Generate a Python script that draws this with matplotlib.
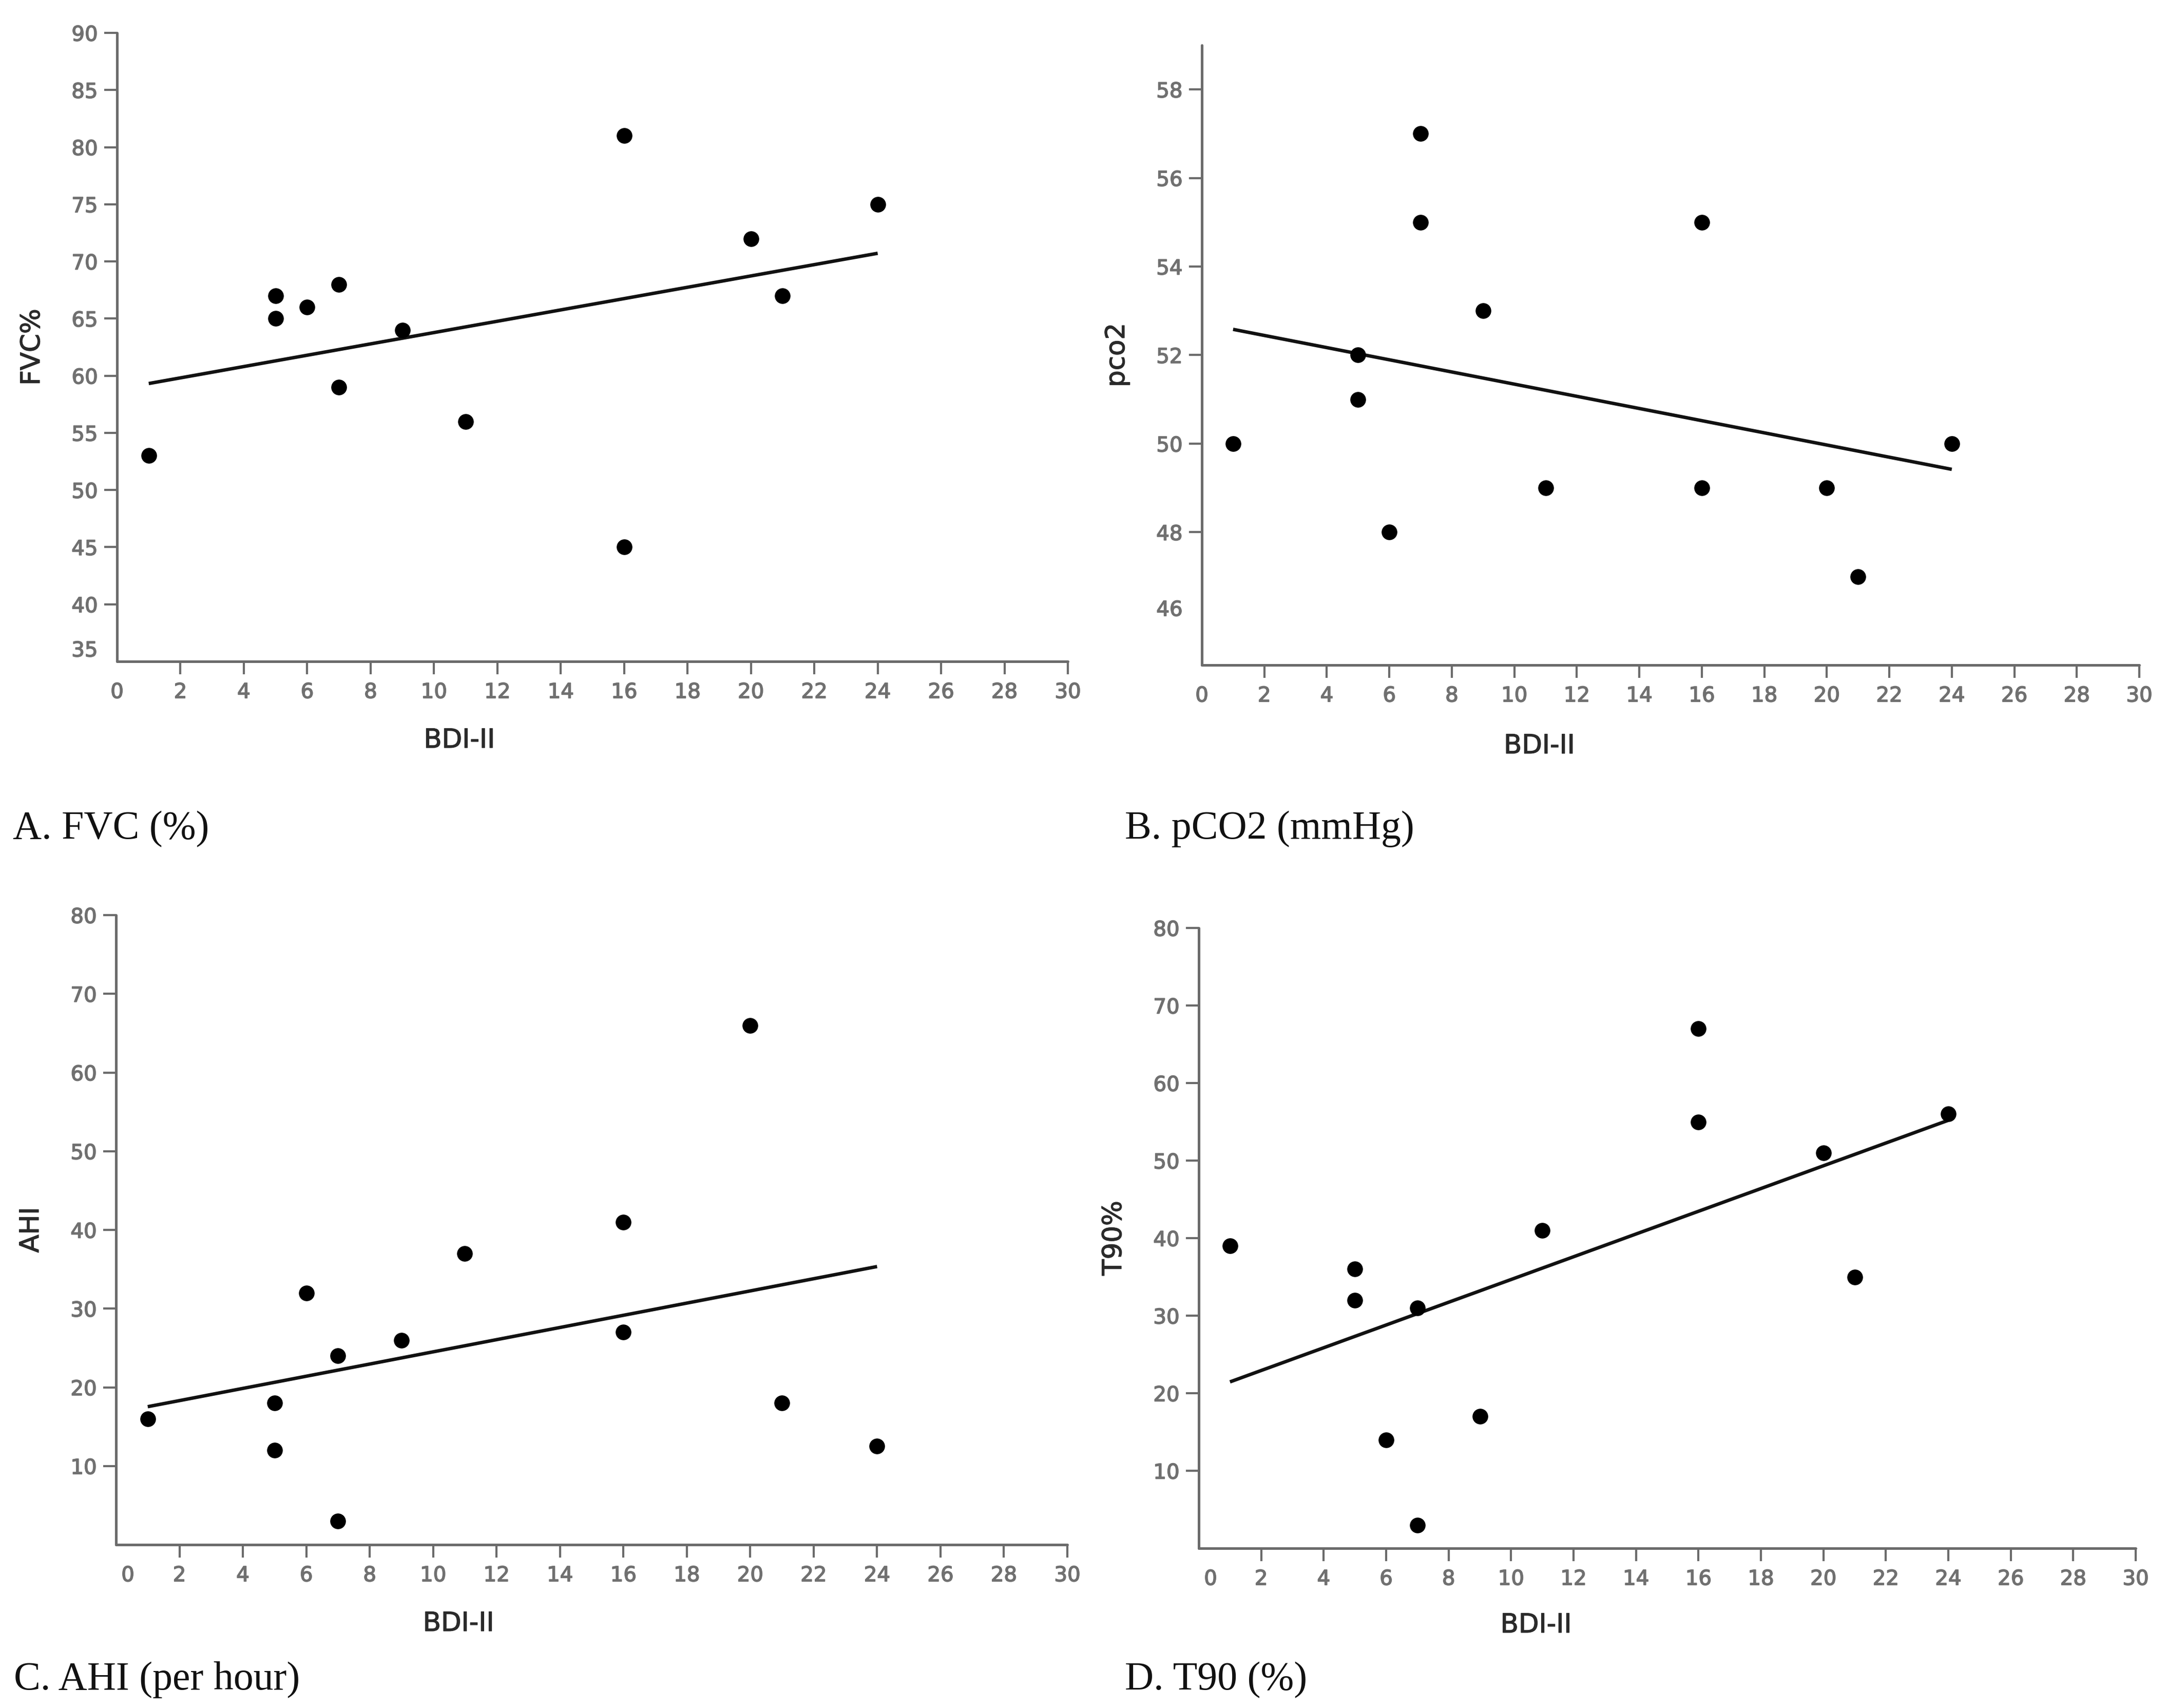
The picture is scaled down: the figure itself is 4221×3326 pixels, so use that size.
import numpy as np
import matplotlib
matplotlib.use("Agg")
import matplotlib.pyplot as plt
import matplotlib.patheffects as pe
from matplotlib.transforms import ScaledTranslation

# ---- data (BDI-II score vs outcome) ----
fvc_x = [1, 5, 5, 6, 7, 7, 9, 11, 16, 16, 20, 21, 24]
fvc_y = [53, 67, 65, 66, 68, 59, 64, 56, 81, 45, 72, 67, 75]

pco2_x = [1, 5, 5, 6, 7, 7, 9, 11, 16, 16, 20, 21, 24]
pco2_y = [50, 52, 51, 48, 57, 55, 53, 49, 55, 49, 49, 47, 50]

ahi_x = [1, 5, 5, 6, 7, 7, 9, 11, 16, 16, 20, 21, 24]
ahi_y = [16, 18, 12, 32, 24, 3, 26, 37, 41, 27, 66, 18, 12.5]

t90_x = [1, 5, 5, 6, 7, 7, 9, 11, 16, 16, 20, 21, 24]
t90_y = [39, 36, 32, 14, 31, 3, 17, 41, 67, 55, 51, 35, 56]

x_ticks = list(range(0, 31, 2))
fvc_ticks = list(range(35, 91, 5))
pco2_ticks = list(range(46, 59, 2))
ahi_ticks = list(range(10, 81, 10))
t90_ticks = list(range(10, 81, 10))

xlabel = "BDI-II"
ylabels = ["FVC%", "pco2", "AHI", "T90%"]
captions = ["A. FVC (%)", "B. pCO2 (mmHg)", "C. AHI (per hour)", "D. T90 (%)"]

# ---- layout ----
W, H = 4221, 3326
DPI = 100
fig = plt.figure(figsize=(W / DPI, H / DPI), dpi=DPI, facecolor="white")


def box(l, r, t, b):
    return [l / W, 1 - b / H, (r - l) / W, (b - t) / H]


panels = [
    dict(x=fvc_x, y=fvc_y, ylim=(35, 90), yticks=fvc_ticks, box=(228, 2080, 64, 1288),
         low_label=True, shift_x0=False, cap=(25, 1633), xlab_off=154),
    dict(x=pco2_x, y=pco2_y, ylim=(45, 59), yticks=pco2_ticks, box=(2341, 4167, 88, 1295),
         low_label=True, shift_x0=False, cap=(2191, 1633), xlab_off=158),
    dict(x=ahi_x, y=ahi_y, ylim=(0, 80), yticks=ahi_ticks, box=(226, 2079, 1782, 3008),
         low_label=False, shift_x0=True, cap=(27, 3290), xlab_off=154),
    dict(x=t90_x, y=t90_y, ylim=(0, 80), yticks=t90_ticks, box=(2335, 4160, 1807, 3015),
         low_label=False, shift_x0=True, cap=(2191, 3290), xlab_off=150),
]

axis_col = "#6b6b6b"
tick_col = "#707070"
label_col = "#2a2a2a"
fatten_tick = [pe.withStroke(linewidth=1.2, foreground=tick_col)]
fatten_lab = [pe.withStroke(linewidth=0.9, foreground=label_col)]

for i, p in enumerate(panels):
    l, r, t, b = p["box"]
    ax = fig.add_axes(box(l, r, t, b))
    xs = np.array(p["x"], dtype=float)
    ys = np.array(p["y"], dtype=float)

    ax.plot(xs, ys, "o", color="black", markersize=21, clip_on=False, zorder=3)
    slope, icpt = np.polyfit(xs, ys, 1)
    xl = np.array([xs.min(), xs.max()])
    ax.plot(xl, slope * xl + icpt, color="#111111", linewidth=4.8,
            solid_capstyle="butt", zorder=2)

    ax.set_xlim(0, 30)
    ax.set_ylim(*p["ylim"])
    ax.set_xticks(x_ticks)
    ax.set_yticks(p["yticks"])

    for s in ["top", "right"]:
        ax.spines[s].set_visible(False)
    for s in ["left", "bottom"]:
        ax.spines[s].set_color(axis_col)
        ax.spines[s].set_linewidth(3.6)
        ax.spines[s].set_capstyle("round")

    ax.tick_params(axis="both", direction="out", length=18, width=3,
                   color=axis_col, labelcolor=tick_col, labelsize=29)
    ax.tick_params(axis="y", pad=9)
    ax.tick_params(axis="x", pad=11)
    for lab in ax.get_xticklabels() + ax.get_yticklabels():
        lab.set_fontfamily("DejaVu Sans")
        lab.set_path_effects(fatten_tick)

    # no tick mark at x = 0 (corner)
    ax.xaxis.get_major_ticks()[0].tick1line.set_visible(False)
    if p["shift_x0"]:
        lab0 = ax.get_xticklabels()[0]
        lab0.set_transform(lab0.get_transform() + ScaledTranslation(0.23, 0, fig.dpi_scale_trans))
    if p["low_label"]:
        yt0 = ax.yaxis.get_major_ticks()[0]
        yt0.tick1line.set_visible(False)
        laby = ax.get_yticklabels()[0]
        laby.set_transform(laby.get_transform() + ScaledTranslation(0, 0.25, fig.dpi_scale_trans))

    width_px = r - l
    height_px = b - t
    ax.set_xlabel(xlabel, fontsize=37, color=label_col, family="DejaVu Sans")
    ax.xaxis.set_label_coords(0.36, -p["xlab_off"] / height_px)
    ax.xaxis.label.set_verticalalignment("center")
    ax.xaxis.label.set_path_effects(fatten_lab)

    ax.set_ylabel(ylabels[i], fontsize=37, color=label_col, family="DejaVu Sans")
    ax.yaxis.set_label_coords(-165 / width_px, 0.5)
    ax.yaxis.label.set_verticalalignment("center")
    ax.yaxis.label.set_path_effects(fatten_lab)

    cx, cy = p["cap"]
    fig.text(cx / W, 1 - cy / H, captions[i], fontsize=56, family="Liberation Serif",
             color="#111111", ha="left", va="baseline")

fig.savefig("out.png", dpi=DPI, facecolor="white")
